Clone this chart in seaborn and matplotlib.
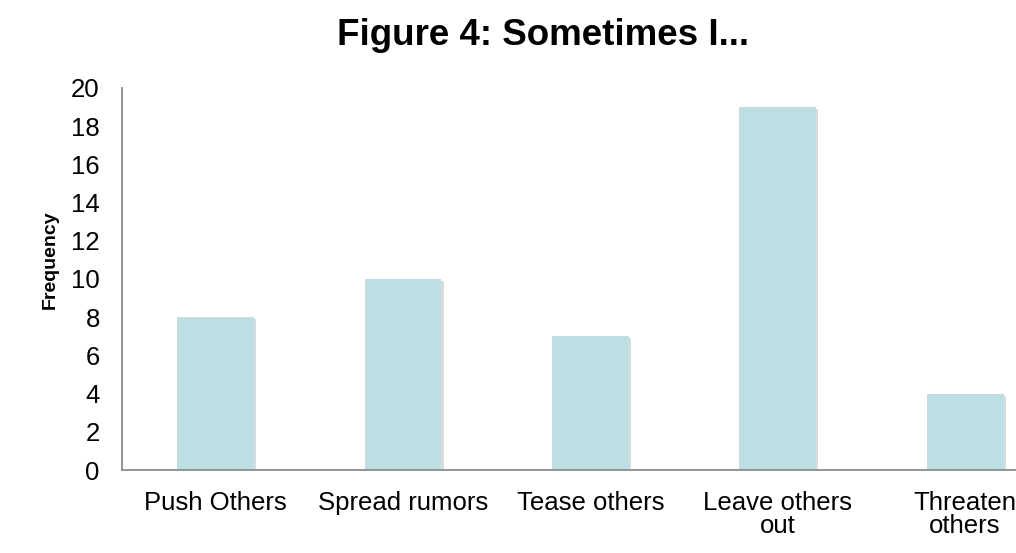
import matplotlib
matplotlib.use("Agg")
import matplotlib.pyplot as plt
import matplotlib.patheffects as pe
import seaborn as sns
import pandas as pd

categories = ["Push Others", "Spread rumors", "Tease others", "Leave others\nout", "Threaten\nothers"]
frequency = [8, 10, 7, 19, 4]
y_ticks = [0, 2, 4, 6, 8, 10, 12, 14, 16, 18, 20]

sns.set_theme(style="white")
plt.rcParams["font.family"] = ["Liberation Sans", "DejaVu Sans"]

df = pd.DataFrame({"behavior": categories, "frequency": frequency})

fig = plt.figure(figsize=(10.16, 5.53), dpi=100)
ax = fig.add_axes([0.1201, 0.150, 0.922, 0.691])

sns.barplot(data=df, x="behavior", y="frequency", color="#BBDFE3",
            saturation=1, width=0.41, ax=ax)

# soft drop shadow under each bar
for bar in ax.patches:
    bar.set_edgecolor("none")
    bar.set_path_effects([pe.SimplePatchShadow(offset=(1.5, -1.5), shadow_rgbFace="#999999", alpha=0.35),
                          pe.Normal()])

ax.set_xlim(-0.5, 4.5)
ax.set_ylim(0, 20)
ax.set_yticks(y_ticks)
ax.tick_params(axis="y", labelsize=18.5, length=0, pad=16, colors="black")
ax.tick_params(axis="x", labelsize=18.5, length=0, pad=15, colors="black")
for lbl in ax.get_xticklabels():
    lbl.set_linespacing(0.95)
ax.set_xlabel("")
ax.set_ylabel("Frequency", fontsize=14, fontweight="bold", color="black")
ax.yaxis.set_label_coords(-0.068, 0.55)

for side in ["top", "right"]:
    ax.spines[side].set_visible(False)
for side in ["left", "bottom"]:
    ax.spines[side].set_color("#8C8C8C")
    ax.spines[side].set_linewidth(1.3)

fig.text(0.534, 0.9186, "Figure 4: Sometimes I...", ha="center", va="baseline",
         fontsize=26.5, fontweight="bold", color="black")

fig.savefig("out.png", dpi=100)
